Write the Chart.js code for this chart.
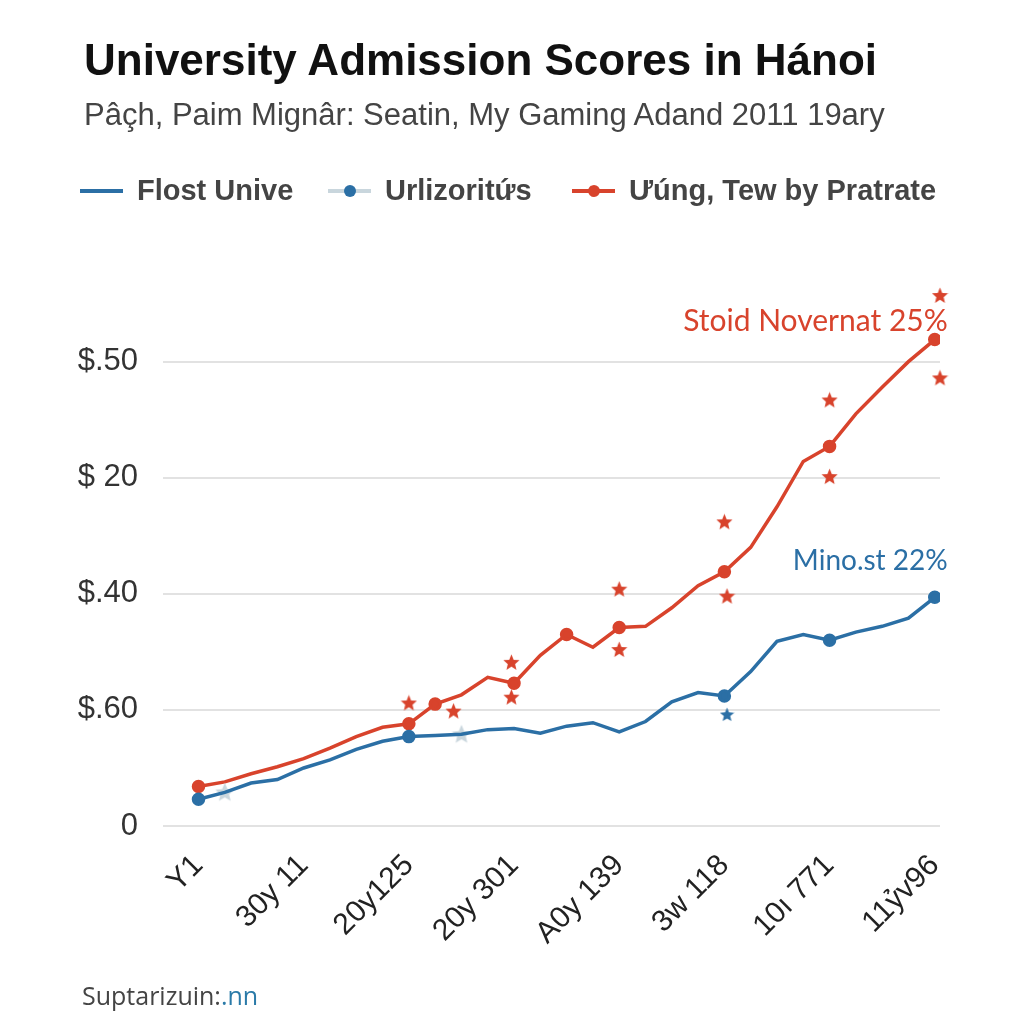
<!DOCTYPE html>
<html>
<head>
<meta charset="utf-8">
<script src="https://cdn.jsdelivr.net/npm/chart.js@4.4.0/dist/chart.umd.min.js"></script>
<style>
  body { margin: 0; background: #fff; font-family: "Liberation Sans", Arial, sans-serif; }
  #wrap { position: relative; width: 1024px; height: 1024px; overflow: hidden; }
  #reportCanvas { position: absolute; left: 0; top: 0; }
  .title { position: absolute; left: 84px; top: 35px; font-size: 44px; font-weight: bold; color: #111; white-space: nowrap; }
  .sub { position: absolute; left: 84px; top: 97px; font-size: 31px; color: #444; white-space: nowrap; }
  .legend { position: absolute; left: 80px; top: 174px; font-size: 29px; font-weight: bold; color: #444; white-space: nowrap; }
  .legend span.item { position: absolute; top: 0; display: flex; align-items: center; }
  .sw { position: relative; display: inline-block; width: 43px; height: 4px; margin-right: 14px; }
  .sw i { position: absolute; left: 16px; top: -4px; width: 12px; height: 12px; border-radius: 50%; }
  .foot { position: absolute; left: 82px; top: 978px; font-size: 25px; color: #444; font-family: "Open Sans", sans-serif; }
  .foot b { font-weight: normal; color: #2a7aa8; }
</style>
</head>
<body>
<div id="wrap">
  <canvas id="reportCanvas" width="1024" height="1024"></canvas>
  <div class="title">University Admission Scores in Hánoi</div>
  <div class="sub">Pâçh, Paim Mignâr: Seatin, My Gaming Adand 2011 19ary</div>
  <div class="legend" id="legend"></div>
  <div class="foot">Suptarizuin:<b>.nn</b></div>
</div>
<script>
// tick labels
const xLabels = ['Y1', '30y 11', '20y125', '20y 301', 'A0y 139', '3w 118', '10ı 771', '11ỷv96'];
const yLabels = ['0', '$.60', '$.40', '$ 20', '$.50'];

// series (one value per step, 29 steps)
const blueScores = [0.23, 0.29, 0.37, 0.40, 0.50, 0.57, 0.66, 0.73, 0.77, 0.78, 0.79, 0.83, 0.84, 0.80, 0.86,
  0.89, 0.81, 0.90, 1.07, 1.15, 1.12, 1.33, 1.59, 1.65, 1.60, 1.67, 1.72, 1.79, 1.97];
const redScores = [0.34, 0.38, 0.45, 0.51, 0.58, 0.67, 0.77, 0.85, 0.88, 1.05, 1.13, 1.28, 1.23, 1.47, 1.65,
  1.54, 1.71, 1.72, 1.88, 2.07, 2.19, 2.40, 2.75, 3.14, 3.27, 3.55, 3.78, 4.00, 4.19];
const blueDots = [0, 8, 20, 24, 28];
const redDots = [0, 8, 9, 12, 14, 16, 20, 24, 28];

// star markers
const lightStarX = [1, 10];
const lightStarY = [0.29, 0.79];
const redStarX = [8, 9.7, 11.9, 11.9, 16, 16, 20, 20.1, 24, 24, 28.2, 28.2];
const redStarY = [1.06, 0.99, 1.41, 1.11, 2.04, 1.52, 2.62, 1.98, 3.67, 3.01, 4.57, 3.86];
const blueStarX = [20.1];
const blueStarY = [0.96];

const legendNames = ['Flost Unive', 'Urlizoritứs', 'Ưúng, Tew by Pratrate'];
const notes = ['Stoid Novernat 25%', 'Mino.st 22%'];

const BLUE = '#2b6fa5';
const RED = '#d8432c';
const LIGHT = '#c9d6dd';

function makeStar(color, size) {
  let c = document.createElement('canvas');
  c.width = size; c.height = size;
  let g = c.getContext('2d');
  let r = size / 2, r2 = r * 0.45;
  g.beginPath();
  for (let k = 0; k < 10; k++) {
    let rr = k % 2 ? r2 : r;
    let a = -Math.PI / 2 + k * Math.PI / 5;
    g.lineTo(r + rr * Math.cos(a), r + 0.5 + rr * Math.sin(a));
  }
  g.closePath();
  g.fillStyle = color;
  g.fill();
  return c;
}

function pts(xs, ys) {
  return xs.map((x, i) => ({ x: x, y: ys[i] }));
}

// legend
const legendEl = document.getElementById('legend');
const legendSpots = [0, 248, 492];
const legendCols = [[BLUE, null], [LIGHT, BLUE], [RED, RED]];
legendNames.forEach((name, i) => {
  let s = document.createElement('span');
  s.className = 'item';
  s.style.left = legendSpots[i] + 'px';
  let dot = legendCols[i][1] ? '<i style="background:' + legendCols[i][1] + '"></i>' : '';
  s.innerHTML = '<span class="sw" style="background:' + legendCols[i][0] + '">' + dot + '</span>' + name;
  legendEl.append(s);
});

const notesPlugin = {
  id: 'notes',
  afterDatasetsDraw(chart) {
    const ctx = chart.ctx;
    const xs = chart.scales.x, ys = chart.scales.y;
    ctx.save();
    ctx.textAlign = 'right';
    ctx.textBaseline = 'middle';
    ctx.font = '30px Lato, "Open Sans", sans-serif';
    ctx.fillStyle = RED;
    ctx.fillText(notes[0], xs.getPixelForValue(28) + 13, ys.getPixelForValue(redScores[28]) - 18);
    ctx.font = '28px Lato, "Open Sans", sans-serif';
    ctx.fillStyle = BLUE;
    ctx.fillText(notes[1], xs.getPixelForValue(28) + 13, ys.getPixelForValue(blueScores[28]) - 36);
    ctx.restore();
  }
};

const lineData = (vals) => vals.map((v, i) => ({ x: i, y: v }));

let canvas = document.getElementById('reportCanvas');
const myLineChart = new Chart(canvas, {
  type: 'line',
  data: {
    datasets: [
      {
        label: legendNames[0],
        data: lineData(blueScores),
        borderColor: BLUE,
        backgroundColor: BLUE,
        borderWidth: 3.5,
        pointRadius: blueScores.map((v, i) => blueDots.includes(i) ? 5 : 0),
        tension: 0
      },
      {
        label: legendNames[1],
        data: pts(lightStarX, lightStarY),
        showLine: false,
        pointStyle: makeStar(LIGHT, 20),
        clip: false
      },
      {
        label: legendNames[2],
        data: lineData(redScores),
        borderColor: RED,
        backgroundColor: RED,
        borderWidth: 3.5,
        pointRadius: redScores.map((v, i) => redDots.includes(i) ? 5 : 0),
        tension: 0
      },
      {
        label: 'red stars',
        data: pts(redStarX, redStarY),
        showLine: false,
        pointStyle: makeStar(RED, 17),
        clip: false
      },
      {
        label: 'blue star',
        data: pts(blueStarX, blueStarY),
        showLine: false,
        pointStyle: makeStar(BLUE, 15),
        clip: false
      }
    ]
  },
  options: {
    responsive: false,
    animation: false,
    events: [],
    layout: { padding: { top: 292, right: 84, bottom: 68, left: 0 } },
    plugins: { legend: { display: false }, tooltip: { enabled: false } },
    scales: {
      x: {
        type: 'linear',
        min: -1.35,
        max: 28.2,
        afterFit: (s) => { s.height = 130; },
        grid: { display: false },
        border: { display: false },
        ticks: {
          stepSize: 4,
          includeBounds: false,
          autoSkip: false,
          minRotation: 45,
          maxRotation: 45,
          padding: 14,
          color: '#222',
          font: { family: '"Liberation Sans", Arial, sans-serif', size: 30 },
          callback: (v) => (v % 4 === 0 && v >= 0) ? xLabels[v / 4] : ''
        }
      },
      y: {
        min: 0,
        max: 4.6,
        afterFit: (s) => { s.width = 163; },
        grid: { color: '#e2e2e2', lineWidth: 2, drawTicks: false },
        border: { display: false },
        ticks: {
          stepSize: 1,
          includeBounds: false,
          padding: 25,
          color: '#333',
          font: { family: '"Liberation Sans", Arial, sans-serif', size: 31 },
          callback: (v) => yLabels[v]
        }
      }
    }
  },
  plugins: [notesPlugin]
});
</script>
</body>
</html>
